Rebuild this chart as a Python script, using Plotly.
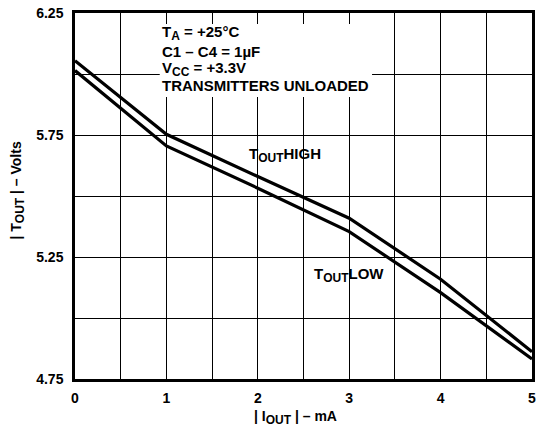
import plotly.graph_objects as go

# Data
i_out = [0, 1, 2, 3, 4, 5]
t_out_high = [6.054, 5.753, 5.580, 5.409, 5.159, 4.862]
t_out_low = [6.014, 5.705, 5.532, 5.354, 5.104, 4.832]

x_tickvals = [0, 1, 2, 3, 4, 5]
x_ticktext = ["0", "1", "2", "3", "4", "5"]
y_tickvals = [4.75, 5.25, 5.75, 6.25]
y_ticktext = ["4.75", "5.25", "5.75", "6.25"]

SUB = '<sub><span style="font-size:12px">%s</span></sub>'
conditions = [
    "T" + SUB % "A" + " = +25°C",
    "C1 – C4 = 1µF",
    "V" + SUB % "CC" + " = +3.3V",
    "TRANSMITTERS UNLOADED",
]
cond_y = [6.168, 6.094, 6.020, 5.951]

FONT = "Arial, Liberation Sans, sans-serif"

fig = go.Figure()
for ys in (t_out_high, t_out_low):
    fig.add_trace(go.Scatter(x=i_out, y=ys, mode="lines",
                             line=dict(color="black", width=3.2),
                             showlegend=False, hoverinfo="skip"))

# white box behind the condition text, covering gridlines
fig.add_shape(type="rect", x0=0.927, x1=3.25, y0=5.906, y1=6.205,
              xref="x", yref="y", fillcolor="white", line=dict(width=0),
              layer="between")

for txt, yv in zip(conditions, cond_y):
    fig.add_annotation(x=0.935, y=yv, text="<b>%s</b>" % txt, showarrow=False,
                       xanchor="left", yanchor="middle", xref="x", yref="y",
                       font=dict(family=FONT, size=15, color="black"))

fig.add_annotation(x=1.88, y=5.668, text="<b>T" + SUB % "OUT" + "HIGH</b>", showarrow=False,
                   xanchor="left", yanchor="middle",
                   font=dict(family=FONT, size=15, color="black"))
fig.add_annotation(x=2.59, y=5.176, text="<b>T" + SUB % "OUT" + "LOW</b>", showarrow=False,
                   xanchor="left", yanchor="middle",
                   font=dict(family=FONT, size=15, color="black"))

# axis titles
fig.add_annotation(x=0.483, y=-0.105, xref="paper", yref="paper",
                   text="<b>| I" + SUB % "OUT" + " | – mA</b>", showarrow=False,
                   xanchor="center", yanchor="middle",
                   font=dict(family=FONT, size=14, color="black"))
fig.add_annotation(x=-0.126, y=0.516, xref="paper", yref="paper",
                   text="<b>| T" + SUB % "OUT" + " | – Volts</b>", showarrow=False,
                   textangle=-90, xanchor="center", yanchor="middle",
                   font=dict(family=FONT, size=14, color="black"))

axis_common = dict(showline=True, mirror=True, linewidth=2.5, linecolor="black",
                   showgrid=True, gridcolor="black", gridwidth=1, zeroline=False,
                   ticks="", tickfont=dict(family=FONT, size=14, color="black"))

fig.update_xaxes(range=[0, 5], tickmode="array", tickvals=x_tickvals,
                 ticktext=["<b>%s</b>" % t for t in x_ticktext], ticklabelstandoff=4,
                 minor=dict(dtick=0.5, tick0=0, showgrid=True, gridcolor="black", gridwidth=1),
                 **axis_common)
fig.update_yaxes(range=[4.75, 6.25], tickmode="array", tickvals=y_tickvals,
                 ticktext=["<b>%s</b>" % t for t in y_ticktext], ticklabelstandoff=6,
                 minor=dict(dtick=0.25, tick0=4.75, showgrid=True, gridcolor="black", gridwidth=1),
                 **axis_common)

fig.update_layout(width=537, height=436, margin=dict(l=75, r=2, t=13, b=57),
                  plot_bgcolor="white", paper_bgcolor="white",
                  font=dict(family=FONT, color="black"))

fig.write_html("out.html", config={"displayModeBar": False},
               post_script="document.body.style.margin='0';document.body.style.overflow='hidden';")
